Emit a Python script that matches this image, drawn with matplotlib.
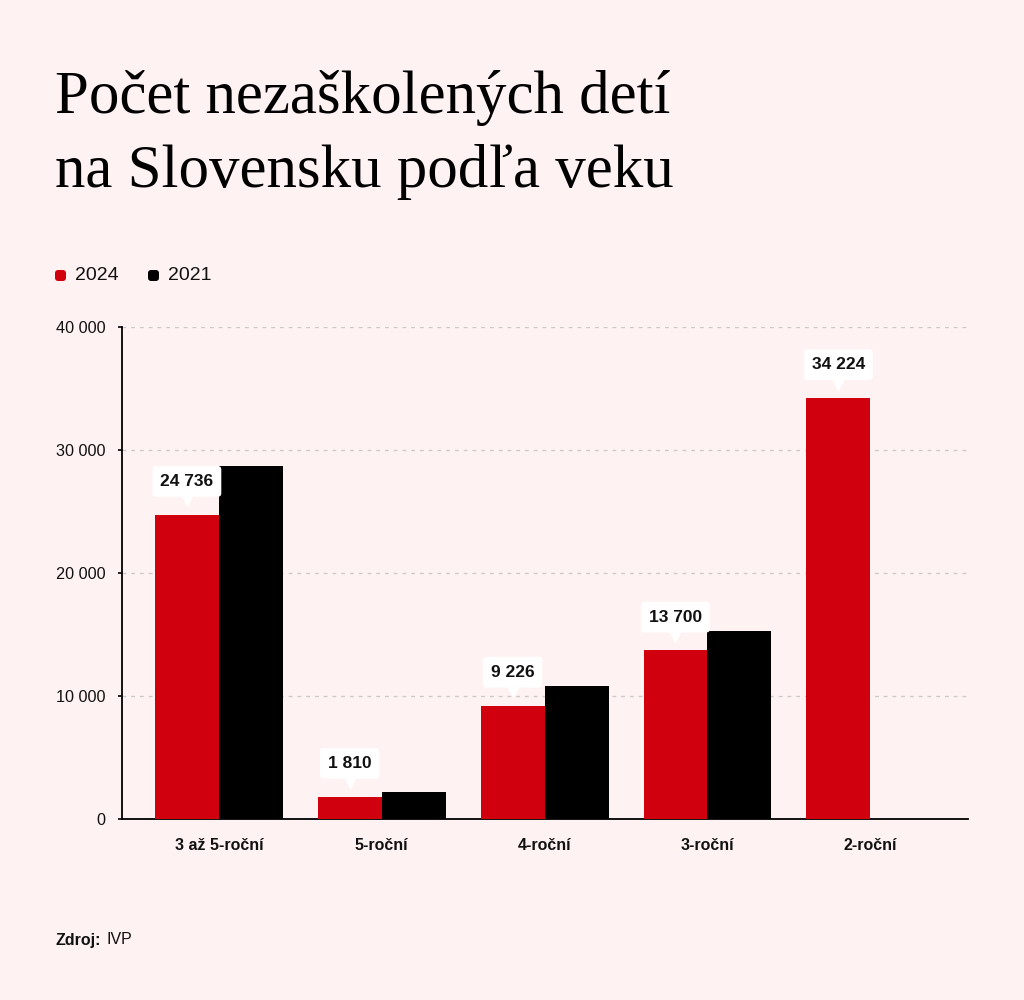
import matplotlib
matplotlib.use("Agg")
import matplotlib.pyplot as plt
import matplotlib.transforms as mtrans
import numpy as np

# data
categories = ["3 až 5-roční", "5-roční", "4-roční", "3-roční", "2-roční"]
vals_2024 = [24736, 1810, 9226, 13700, 34224]
vals_2021 = [28700, 2200, 10800, 15250, np.nan]
label_2024 = ["24 736", "1 810", "9 226", "13 700", "34 224"]
yticks = [0, 10000, 20000, 30000, 40000]
ytick_labels = ["0", "10 000", "20 000", "30 000", "40 000"]

BG = "#fef2f2"
RED = "#d0000f"
BLACK = "#000000"

plt.rcParams["font.family"] = ["Liberation Sans", "DejaVu Sans"]

fig = plt.figure(figsize=(10.24, 10.0), dpi=100, facecolor=BG)
ax = fig.add_axes([122 / 1024, 1 - 819 / 1000, (968 - 122) / 1024, (819 - 327) / 1000])
ax.set_facecolor(BG)

x = np.arange(len(categories))
w = 64 / 163
ax.bar(x - w / 2, vals_2024, width=w, color=RED, zorder=3)
ax.bar(x + w / 2, vals_2021, width=w, color=BLACK, zorder=3)

ax.set_xlim(-0.595, len(categories) - 1 + 0.6)
ax.set_ylim(0, 40000)
ax.set_yticks(yticks)
ax.set_yticklabels(ytick_labels, fontsize=11.7, color="#111111")
ax.set_xticks(x)
ax.set_xticklabels(categories, fontsize=11.5, fontweight="bold", color="#111111")
ax.tick_params(axis="x", length=0, pad=14)
ax.tick_params(axis="y", length=3, width=1.2, pad=9)
ax.grid(axis="y", color="#c8c8c8", linestyle=(0, (3, 4)), linewidth=0.9, zorder=0)
for s in ["top", "right"]:
    ax.spines[s].set_visible(False)
for s in ["left", "bottom"]:
    ax.spines[s].set_linewidth(1.3)
    ax.spines[s].set_color("#000000")

# value callouts over 2024 bars
for xi, v, lab in zip(x, vals_2024, label_2024):
    ax.annotate(lab, (xi - w / 2, v), xytext=(0, 24), textcoords="offset points",
                ha="center", va="center", fontsize=12.5, fontweight="bold", color="#111111",
                bbox=dict(boxstyle="round,pad=0.45,rounding_size=0.2", fc="white", ec="none"),
                zorder=5)
    ax.plot([xi - w / 2], [v], marker="v", markersize=10, color="white",
            transform=mtrans.offset_copy(ax.transData, fig=fig, x=0, y=11, units="points"),
            zorder=4, clip_on=False)

# title
fig.text(55 / 1024, 1 - 187 / 1000, "Počet nezaškolených detí\nna Slovensku podľa veku",
         family="Liberation Serif", fontsize=43.8, color="#000000", va="baseline",
         linespacing=1.43)

# legend
for lx, col, txt in [(55, RED, "2024"), (148, BLACK, "2021")]:
    fig.patches.append(matplotlib.patches.FancyBboxPatch(
        (lx / 1024, 1 - 281 / 1000), 11 / 1024, 11 / 1000,
        boxstyle="round,pad=0,rounding_size=0.003", transform=fig.transFigure,
        fc=col, ec="none"))
    fig.text((lx + 20) / 1024, 1 - 275.5 / 1000, txt, fontsize=14, va="center", color="#111111")

# source
fig.text(55 / 1024, 1 - 940 / 1000, "Zdroj:", fontsize=11.5, fontweight="bold", va="center", color="#111111")
fig.text(107 / 1024, 1 - 940 / 1000, "IVP", fontsize=11.5, va="center", color="#111111")

fig.savefig("out.png", dpi=100, facecolor=BG)
